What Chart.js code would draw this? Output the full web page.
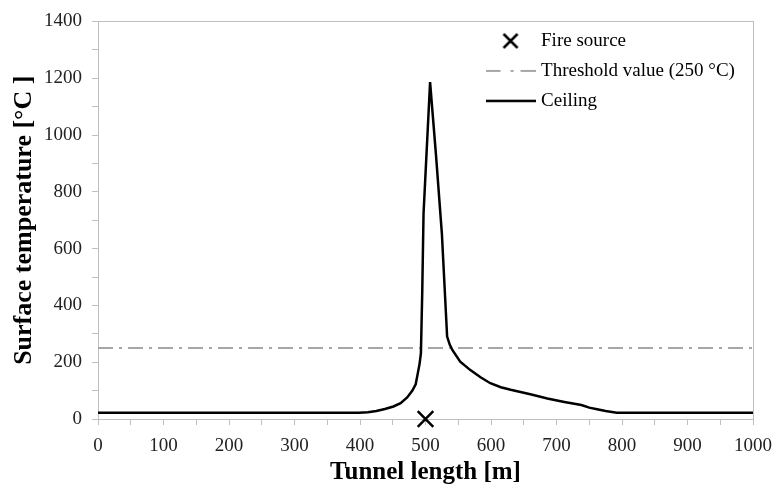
<!DOCTYPE html>
<html>
<head>
<meta charset="utf-8">
<script src="https://cdn.jsdelivr.net/npm/chart.js@4"></script>
<style>
  html, body { margin: 0; padding: 0; background: #fff; }
  canvas { display: block; }
</style>
</head>
<body>
<canvas id="chart" width="774" height="486"></canvas>
<script>
// Ceiling surface temperature along the tunnel
const ceilingX = [0, 100, 200, 300, 398, 412, 425, 438, 451, 462, 472, 480, 485, 488, 491, 493, 495, 497, 507, 516, 525, 533, 537, 541, 553, 568, 584, 599, 615, 630, 645, 660, 686, 712, 738, 750, 762, 775, 792, 800, 900, 1000];
const ceilingT = [22, 22, 22, 22, 22, 24, 28, 35, 44, 56, 76, 100, 122, 158, 195, 232, 444, 723, 1186, 930, 653, 290, 262, 243, 202, 173, 147, 126, 112, 103, 95, 87, 72, 60, 49, 40, 34, 28, 22, 22, 22, 22];
const fireX = [500];
const fireT = [0];
const thresholdX = [0, 1000];
const thresholdT = [250, 250];
const seriesNames = ['Fire source', 'Threshold value (250 °C)', 'Ceiling'];

const serif = '"Liberation Serif", "Times New Roman", serif';
const axisGrey = '#bfbfbf';
const thresholdGrey = '#a6a6a6';

function toPoints(xs, ys) {
  return xs.map((x, i) => ({ x: x, y: ys[i] }));
}

// small swatches for the legend
function swatch(w, h, draw) {
  const c = document.createElement('canvas');
  c.width = w;
  c.height = h;
  draw(c.getContext('2d'));
  return c;
}
const legendIcons = [
  swatch(18, 18, ctx => {
    ctx.strokeStyle = '#000';
    ctx.lineWidth = 2.5;
    ctx.beginPath();
    ctx.moveTo(2, 2); ctx.lineTo(16, 16);
    ctx.moveTo(16, 2); ctx.lineTo(2, 16);
    ctx.stroke();
  }),
  swatch(50, 4, ctx => {
    ctx.strokeStyle = thresholdGrey;
    ctx.lineWidth = 2;
    ctx.setLineDash([15, 10, 3, 7]);
    ctx.beginPath(); ctx.moveTo(0, 2); ctx.lineTo(50, 2); ctx.stroke();
  }),
  swatch(50, 4, ctx => {
    ctx.strokeStyle = '#000';
    ctx.lineWidth = 2.5;
    ctx.beginPath(); ctx.moveTo(0, 2); ctx.lineTo(50, 2); ctx.stroke();
  })
];

// move the chartArea legend over to the top right of the plot
const legendInPlot = {
  id: 'legendInPlot',
  afterLayout(chart) {
    const lg = chart.legend;
    const area = chart.chartArea;
    lg.left = chart.scales.x.getPixelForValue(581);
    lg.right = area.right;
    lg.top = area.top - 1;
    lg.bottom = area.bottom;
  }
};

new Chart(document.getElementById('chart'), {
  type: 'scatter',
  data: {
    datasets: [
      {
        label: seriesNames[0],
        data: toPoints(fireX, fireT),
        pointStyle: 'crossRot',
        pointRadius: 11,
        pointBorderWidth: 2.5,
        borderColor: '#000',
        backgroundColor: '#000',
        showLine: false,
        clip: false,
        order: 0
      },
      {
        label: seriesNames[1],
        data: toPoints(thresholdX, thresholdT),
        showLine: true,
        borderColor: thresholdGrey,
        borderWidth: 2,
        borderDash: [15, 6, 3, 6],
        pointRadius: 0,
        order: 2
      },
      {
        label: seriesNames[2],
        data: toPoints(ceilingX, ceilingT),
        showLine: true,
        borderColor: '#000',
        borderWidth: 2.5,
        tension: 0,
        pointRadius: 0,
        order: 1
      }
    ]
  },
  options: {
    responsive: false,
    animation: false,
    layout: { padding: { top: 21, right: 21, left: 0, bottom: 0 } },
    plugins: {
      tooltip: { enabled: false },
      legend: {
        position: 'chartArea',
        align: 'start',
        labels: {
          usePointStyle: true,
          pointStyleWidth: 42,
          padding: 11,
          color: '#000',
          font: { family: serif, size: 19 },
          generateLabels(chart) {
            const items = Chart.defaults.plugins.legend.labels.generateLabels(chart);
            items.sort((a, b) => a.datasetIndex - b.datasetIndex);
            items.forEach(it => { it.pointStyle = legendIcons[it.datasetIndex]; });
            return items;
          }
        }
      }
    },
    scales: {
      x: {
        type: 'linear',
        position: 'bottom',
        min: 0,
        max: 1000,
        afterFit(s) {
          s.height = 67;
          s.paddingLeft = 0;
          s.paddingRight = 0;
        },
        ticks: {
          stepSize: 50,
          autoSkip: false,
          maxRotation: 0,
          padding: 10,
          color: '#222',
          font: { family: serif, size: 19 },
          callback: v => (v % 100 === 0 ? v : '')
        },
        grid: { drawOnChartArea: false, tickLength: 6, color: axisGrey },
        border: { color: axisGrey, width: 1 },
        title: {
          display: true,
          text: 'Tunnel length [m]',
          color: '#000',
          font: { family: serif, size: 25, weight: 'bold', lineHeight: 1 },
          padding: { top: 0, bottom: 1 }
        }
      },
      y: {
        type: 'linear',
        position: 'left',
        min: 0,
        max: 1400,
        afterFit(s) { s.width = 98; },
        ticks: {
          stepSize: 100,
          autoSkip: false,
          padding: 10,
          color: '#222',
          font: { family: serif, size: 19 },
          callback: v => (v % 200 === 0 ? v : '')
        },
        grid: { drawOnChartArea: false, tickLength: 6, color: axisGrey },
        border: { color: axisGrey, width: 1 },
        title: {
          display: true,
          text: 'Surface temperature [°C ]',
          color: '#000',
          font: { family: serif, size: 26, weight: 'bold', lineHeight: 1 },
          padding: { top: 11, bottom: 0 }
        }
      },
      x2: {
        type: 'linear',
        position: 'top',
        min: 0,
        max: 1000,
        ticks: { display: false },
        grid: { display: false, drawTicks: false },
        border: { color: axisGrey, width: 1 }
      },
      y2: {
        type: 'linear',
        position: 'right',
        min: 0,
        max: 1400,
        ticks: { display: false },
        grid: { display: false, drawTicks: false },
        border: { color: axisGrey, width: 1 }
      }
    }
  },
  plugins: [legendInPlot]
});
</script>
</body>
</html>
